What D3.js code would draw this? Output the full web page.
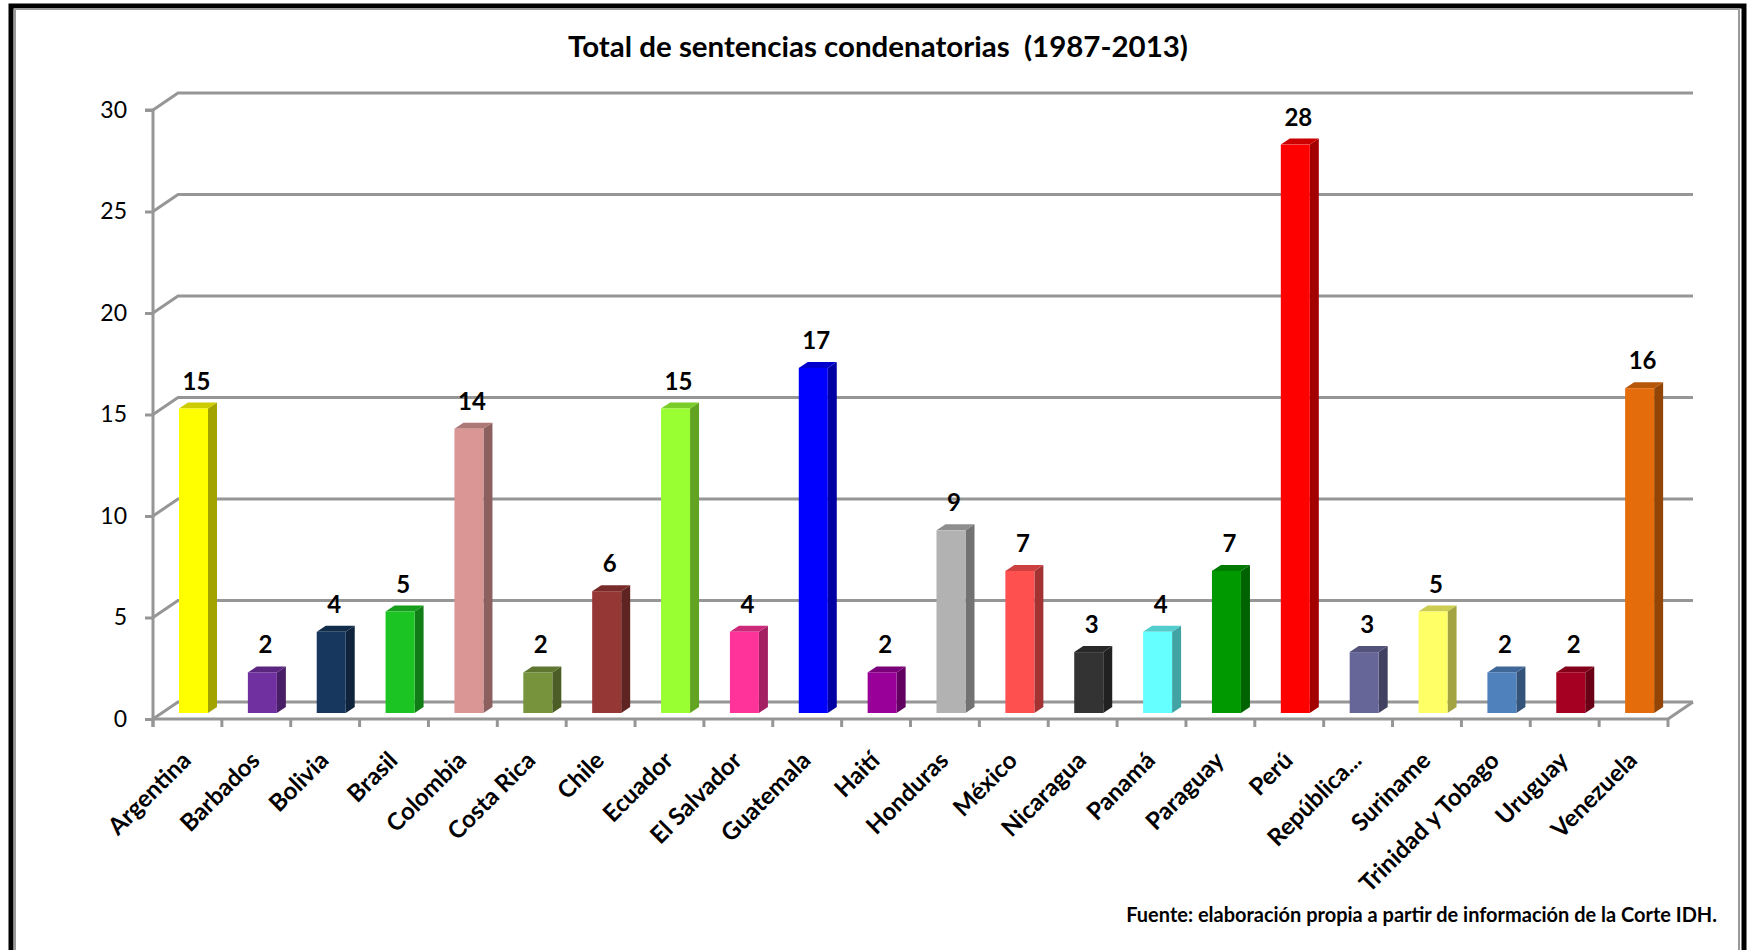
<!DOCTYPE html>
<html>
<head>
<meta charset="utf-8">
<script src="https://cdn.jsdelivr.net/npm/d3@7"></script>
<style>
  html, body { margin: 0; padding: 0; background: #fff; }
  svg { display: block; }
  text { font-family: Lato, "Open Sans", "DejaVu Sans", sans-serif; fill: #000; }
</style>
</head>
<body>
<svg id="chart" width="1747" height="950"></svg>
<script>
// Sentencias condenatorias por país, 1987-2013
const categories = ["Argentina", "Barbados", "Bolivia", "Brasil", "Colombia", "Costa Rica", "Chile",
  "Ecuador", "El Salvador", "Guatemala", "Haití", "Honduras", "México", "Nicaragua", "Panamá",
  "Paraguay", "Perú", "República...", "Suriname", "Trinidad y Tobago", "Uruguay", "Venezuela"];
const values = [15, 2, 4, 5, 14, 2, 6, 15, 4, 17, 2, 9, 7, 3, 4, 7, 28, 3, 5, 2, 2, 16];
const barColors = ["#FFFF00", "#7030A0", "#17375E", "#1BC422", "#D99694", "#77933C", "#953735",
  "#99FF33", "#FF3399", "#0000FF", "#990099", "#B2B2B2", "#FF5050", "#333333", "#66FFFF",
  "#009900", "#FF0000", "#666699", "#FFFF66", "#4F81BD", "#A50021", "#E46C0A"];
const yTickValues = [0, 5, 10, 15, 20, 25, 30];
const titleText = "Total de sentencias condenatorias  (1987-2013)";
const sourceText = "Fuente: elaboración propia a partir de información de la Corte IDH.";

const W = 1747, H = 950;
const svg = d3.select("#chart");

// frame around the chart area
svg.append("rect").attr("x", 0).attr("y", 0).attr("width", W).attr("height", H).attr("fill", "#fff");
svg.append("rect").attr("x", 11).attr("y", 6).attr("width", 1733).attr("height", 1000)
  .attr("fill", "none").attr("stroke", "#000").attr("stroke-width", 5);
svg.append("rect").attr("x", 15).attr("y", 9).attr("width", 1724).attr("height", 1000)
  .attr("fill", "none").attr("stroke", "#9a9a9a").attr("stroke-width", 2);

// plot geometry: front plane plus a receding depth offset
const x0 = 153, x1 = 1668;
const depth = { dx: 25, dy: -17 };
const x = d3.scaleBand().domain(categories).range([x0, x1]).padding(0);
const y = d3.scaleLinear().domain([0, 30]).range([719, 110]);

const gridColor = "#969696";
const grid = svg.append("g");

// back-wall gridlines with their diagonal on the left wall
yTickValues.forEach(t => {
  const yy = y(t);
  grid.append("path")
    .attr("d", `M${x0},${yy} L${x0 + depth.dx},${yy + depth.dy} L${x1 + depth.dx},${yy + depth.dy}`)
    .attr("fill", "none").attr("stroke", gridColor).attr("stroke-width", 3);
});
// floor: right diagonal and front edge
grid.append("path")
  .attr("d", `M${x1 + depth.dx},${y(0) + depth.dy} L${x1},${y(0)} L${x0},${y(0)}`)
  .attr("fill", "none").attr("stroke", gridColor).attr("stroke-width", 3);

// value axis
const yAxis = d3.axisLeft(y).tickValues(yTickValues).tickSize(8).tickPadding(18).tickFormat(d3.format("d"));
const gy = svg.append("g").attr("transform", `translate(${x0},0)`).call(yAxis);
gy.select(".domain").attr("stroke", gridColor).attr("stroke-width", 3)
  .attr("d", `M-8,${y(30)}H0V${y(0) + 8}`);
gy.selectAll(".tick line").attr("stroke", gridColor).attr("stroke-width", 3);
gy.selectAll(".tick text").attr("font-size", 23).attr("font-family", "Lato, sans-serif").attr("fill", "#000");

// category axis: ticks at band boundaries
const gx = svg.append("g");
const bounds = categories.map(c => x(c)).concat([x1]);
gx.selectAll("line.bt").data(bounds).join("line")
  .attr("x1", d => d).attr("x2", d => d)
  .attr("y1", y(0)).attr("y2", y(0) + 8)
  .attr("stroke", gridColor).attr("stroke-width", 3);

// 3D bars
const barOff = 26, barW = 29, bd = { dx: 9, dy: -6 }, lift = { dx: 0, dy: -6 };
const shade = (c, k) => { const r = d3.rgb(c); return d3.rgb(r.r * k, r.g * k, r.b * k).formatHex(); };
const data = categories.map((c, i) => ({ c, v: values[i], col: barColors[i] }));

const bars = svg.append("g").selectAll("g").data(data).join("g");
bars.each(function (d) {
  const g = d3.select(this);
  const bx = x(d.c) + barOff + lift.dx;
  const by0 = y(0) + lift.dy;
  const by1 = y(d.v) + lift.dy;
  // side face
  g.append("path")
    .attr("d", `M${bx + barW},${by1} L${bx + barW + bd.dx},${by1 + bd.dy} L${bx + barW + bd.dx},${by0 + bd.dy} L${bx + barW},${by0} Z`)
    .attr("fill", shade(d.col, 0.64));
  // top face
  g.append("path")
    .attr("d", `M${bx},${by1} L${bx + bd.dx},${by1 + bd.dy} L${bx + barW + bd.dx},${by1 + bd.dy} L${bx + barW},${by1} Z`)
    .attr("fill", shade(d.col, 0.8));
  // front face
  g.append("rect")
    .attr("x", bx).attr("y", by1).attr("width", barW).attr("height", by0 - by1)
    .attr("fill", d.col);
});

// value labels
svg.append("g").selectAll("text").data(data).join("text")
  .attr("x", d => x(d.c) + barOff + barW / 2 + 3)
  .attr("y", d => y(d.v) + lift.dy - 19)
  .attr("text-anchor", "middle")
  .attr("font-size", 24).attr("font-weight", "bold")
  .text(d => d.v);

// rotated category labels
svg.append("g").selectAll("text").data(categories).join("text")
  .attr("transform", c => `translate(${x(c) + x.bandwidth() / 2 + 5},${762}) rotate(-45)`)
  .attr("text-anchor", "end")
  .attr("font-size", 24).attr("font-weight", "bold")
  .text(c => c);

// title and source note, sized to their line widths
function fitText(sel, width) {
  const len = sel.node().getComputedTextLength();
  const fs = parseFloat(sel.attr("font-size"));
  sel.attr("font-size", (fs * width / len).toFixed(2));
}
const title = svg.append("text").attr("x", 878).attr("y", 57).attr("text-anchor", "middle")
  .style("white-space", "pre")
  .attr("font-size", 26).attr("font-weight", "bold").text(titleText);
fitText(title, 620);

const source = svg.append("text").attr("x", 1717).attr("y", 922).attr("text-anchor", "end")
  .attr("font-size", 18).attr("font-weight", "bold").text(sourceText);
fitText(source, 591);
</script>
</body>
</html>
